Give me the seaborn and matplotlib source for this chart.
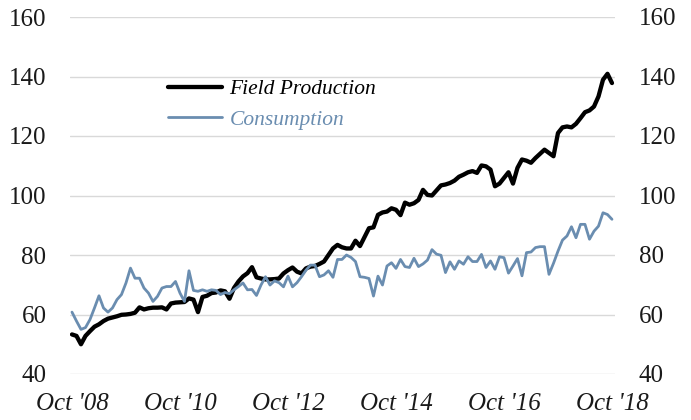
import numpy as np
import pandas as pd
import matplotlib
matplotlib.use("Agg")
import matplotlib.pyplot as plt
import seaborn as sns

# Monthly series, Oct 2008 - Oct 2018
production = [
    53.3, 52.8, 50.0, 52.8, 54.4, 55.9, 56.7, 57.8, 58.6, 59.0,
    59.4, 59.9, 60.0, 60.2, 60.6, 62.4, 61.7, 62.1, 62.3, 62.3,
    62.4, 61.7, 63.7, 64.0, 64.1, 64.2, 65.4, 65.0, 60.8, 65.9,
    66.3, 67.2, 67.4, 68.1, 67.8, 65.3, 68.9, 71.1, 72.8, 73.9,
    75.9, 72.5, 72.1, 71.8, 71.8, 71.9, 72.1, 73.8, 74.9, 75.8,
    74.4, 73.8, 75.5, 76.1, 76.3, 77.0, 77.8, 80.0, 82.2, 83.4,
    82.6, 82.2, 82.2, 84.8, 83.0, 86.0, 89.0, 89.3, 93.5, 94.3,
    94.6, 95.7, 95.2, 93.4, 97.6, 96.9, 97.4, 98.5, 101.9, 100.2,
    100.0, 101.7, 103.4, 103.7, 104.2, 105.0, 106.3, 107.0, 107.8, 108.2,
    107.6, 110.1, 109.8, 108.7, 103.1, 104.0, 105.9, 107.8, 104.0, 109.3,
    112.1, 111.7, 111.0, 112.6, 114.0, 115.4, 114.3, 113.2, 121.0, 122.9,
    123.2, 122.9, 124.1, 126.0, 128.0, 128.6, 129.9, 133.3, 138.9, 140.9,
    137.8,
]
consumption = [
    60.8, 57.8, 55.0, 55.6, 58.3, 62.2, 66.3, 62.2, 60.8, 62.2,
    65.0, 66.7, 70.6, 75.6, 72.2, 72.2, 68.9, 67.2, 64.4, 66.1,
    68.9, 69.4, 69.4, 71.1, 67.2, 64.4, 74.7, 68.1, 67.8, 68.3,
    67.8, 68.3, 68.1, 66.7, 67.4, 67.0, 68.3, 69.4, 70.6, 68.3,
    68.4, 66.4, 69.9, 72.7, 69.9, 71.3, 70.7, 69.3, 72.9, 69.3,
    70.7, 72.7, 74.9, 76.6, 76.6, 72.7, 73.3, 74.7, 72.5, 78.5,
    78.5, 80.0, 79.2, 77.8, 72.7, 72.5, 72.1, 66.2, 72.9, 69.9,
    76.3, 77.4, 75.5, 78.5, 76.1, 75.8, 78.9, 76.1, 77.0, 78.3,
    81.8, 80.3, 79.9, 74.1, 77.7, 75.2, 78.0, 76.9, 79.4, 77.8,
    77.8, 80.2, 75.8, 78.0, 75.2, 79.4, 79.1, 73.9, 76.3, 78.8,
    73.0, 80.8, 81.0, 82.5, 82.8, 82.8, 73.5, 77.2, 81.3, 85.0,
    86.4, 89.5, 85.8, 90.3, 90.3, 85.3, 88.0, 89.7, 94.2, 93.6,
    92.0,
]
tick_labels = ["Oct '08", "Oct '10", "Oct '12", "Oct '14", "Oct '16", "Oct '18"]
yticks = [40, 60, 80, 100, 120, 140, 160]

months = np.arange(len(production))
df = pd.DataFrame({
    "month": np.concatenate([months, months]),
    "value": production + consumption,
    "series": ["Field Production"] * len(production) + ["Consumption"] * len(consumption),
})

sns.set_style("white")
plt.rcParams["font.family"] = ["Liberation Serif", "DejaVu Serif"]

BLACK = "#000000"
BLUE = "#6A8DB0"

fig = plt.figure(figsize=(6.91, 4.20), dpi=100)
ax = fig.add_axes([70 / 691, 1 - 374 / 420, 545 / 691, 357 / 420])

sns.lineplot(data=df, x="month", y="value", hue="series",
             hue_order=["Field Production", "Consumption"],
             palette=[BLACK, BLUE], ax=ax, legend=False)
lines = ax.get_lines()
lines[0].set_linewidth(3.1)
lines[0].set_zorder(3)
lines[1].set_linewidth(2.0)
lines[1].set_zorder(4)
lines[0].set_solid_joinstyle("round")
lines[1].set_solid_joinstyle("round")

ax.set_xlim(-0.44, 120.67)
ax.set_ylim(40, 160)
ax.set_yticks(yticks)
ax.set_yticklabels([str(v) for v in yticks])
ax.set_xticks(np.arange(0, 121, 24))
ax.set_xticklabels(tick_labels, fontstyle="italic")
ax.set_xlabel("")
ax.set_ylabel("")
ax.grid(axis="y", color="#d9d9d9", linewidth=1.0)
ax.set_axisbelow(True)
for s in ax.spines.values():
    s.set_visible(False)
ax.tick_params(axis="both", length=0, labelsize=18, colors="#1a1a1a")
ax.tick_params(axis="y", pad=17)
ax.tick_params(axis="x", pad=14)

ax2 = ax.twinx()
ax2.set_ylim(40, 160)
ax2.set_yticks(yticks)
ax2.set_yticklabels([str(v) for v in yticks])
for s in ax2.spines.values():
    s.set_visible(False)
ax2.tick_params(axis="y", length=0, labelsize=18, colors="#1a1a1a", pad=17)

leg = ax.legend(lines, ["Field Production", "Consumption"],
                loc="upper left", bbox_to_anchor=(168 / 691, 1 - 79 / 420),
                bbox_transform=fig.transFigure, frameon=False,
                prop={"style": "italic", "size": 15.5},
                handlelength=2.5, handletextpad=0.35, labelspacing=0.5,
                borderpad=0, borderaxespad=0)
for txt, c in zip(leg.get_texts(), [BLACK, BLUE]):
    txt.set_color(c)
for h, lw in zip(leg.get_lines(), [3.1, 2.0]):
    h.set_linewidth(lw)

fig.savefig("out.png", dpi=100)
